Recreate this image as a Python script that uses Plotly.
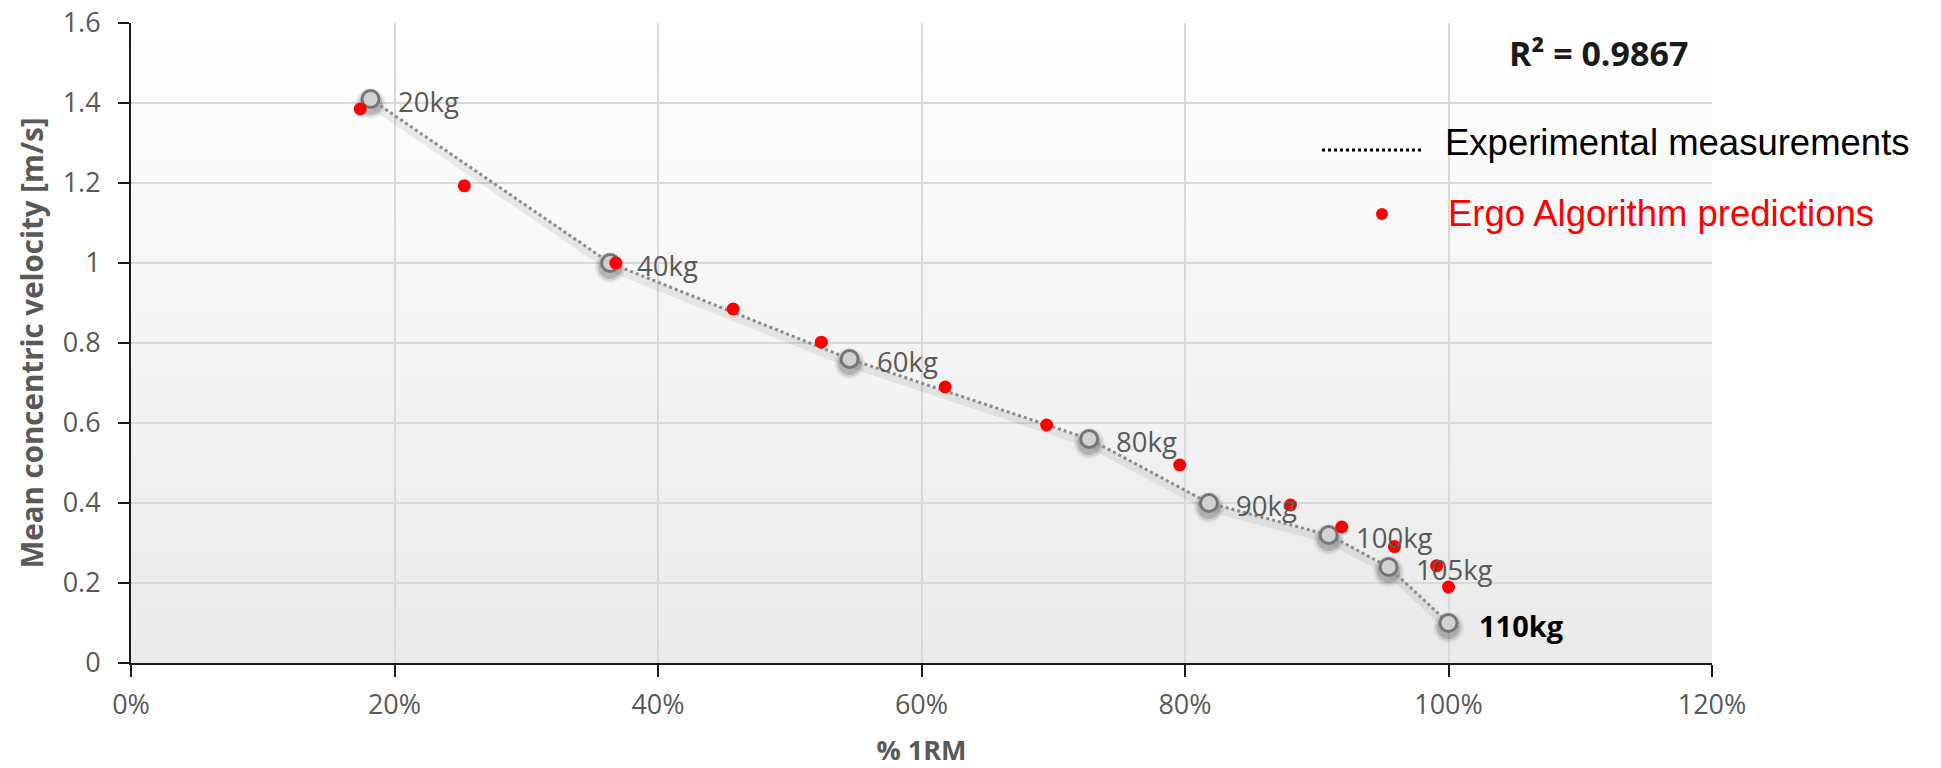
import plotly.graph_objects as go

# ---- data ----
loads = ["20kg", "40kg", "60kg", "80kg", "90kg", "100kg", "105kg", "110kg"]
exp_pct_1rm = [20 / 110, 40 / 110, 60 / 110, 80 / 110, 90 / 110, 100 / 110, 105 / 110, 110 / 110]
exp_velocity = [1.41, 1.00, 0.76, 0.56, 0.40, 0.32, 0.24, 0.10]

pred_pct_1rm = [0.174, 0.253, 0.368, 0.457, 0.524, 0.618, 0.695, 0.796, 0.880, 0.919, 0.959, 0.991, 1.000]
pred_velocity = [1.385, 1.193, 1.000, 0.885, 0.802, 0.690, 0.595, 0.495, 0.395, 0.340, 0.291, 0.243, 0.190]

x_tickvals = [0, 0.2, 0.4, 0.6, 0.8, 1.0, 1.2]
x_ticktext = ["0%", "20%", "40%", "60%", "80%", "100%", "120%"]
y_tickvals = [0, 0.2, 0.4, 0.6, 0.8, 1.0, 1.2, 1.4, 1.6]
y_ticktext = ["0", "0.2", "0.4", "0.6", "0.8", "1", "1.2", "1.4", "1.6"]

r_squared = 0.9867

# ---- page geometry ----
W, H = 1941, 768
ML, MR, MT, MB = 131, 229, 23, 105
PW, PH = W - ML - MR, H - MT - MB


def px_x(px):
    return (px - ML) / PW


def px_y(py):
    return (H - MB - py) / PH


GRAY_TEXT = "#595959"
CAL = "Open Sans, Lato, sans-serif"
ARIAL = "Liberation Sans, Arial, sans-serif"

fig = go.Figure()

# soft shadow under the measured curve
shadow_dy = 0.011
fig.add_trace(go.Scatter(
    x=exp_pct_1rm, y=[v - shadow_dy for v in exp_velocity],
    mode="lines", line=dict(color="rgba(0,0,0,0.07)", width=8),
    hoverinfo="skip", showlegend=False,
))
for size, alpha in [(31, 0.05), (27, 0.09), (23, 0.14)]:
    fig.add_trace(go.Scatter(
        x=exp_pct_1rm, y=[v - shadow_dy for v in exp_velocity],
        mode="markers", marker=dict(size=size, color=f"rgba(0,0,0,{alpha})", line=dict(width=0)),
        hoverinfo="skip", showlegend=False,
    ))

# experimental measurements
fig.add_trace(go.Scatter(
    x=exp_pct_1rm, y=exp_velocity, mode="lines+markers",
    name="Experimental measurements",
    line=dict(color="#8a8a8a", width=3, dash="dot"),
    marker=dict(size=17, color="#d2d2d2", line=dict(color="#757575", width=3)),
    showlegend=False,
))

# algorithm predictions
fig.add_trace(go.Scatter(
    x=pred_pct_1rm, y=pred_velocity, mode="markers",
    name="Ergo Algorithm predictions",
    marker=dict(size=13, color="#ff0000", line=dict(width=0)),
    showlegend=False,
))

annotations = []
# load labels beside each measured point
for i, (xv, yv, lab) in enumerate(zip(exp_pct_1rm, exp_velocity, loads)):
    last = i == len(loads) - 1
    annotations.append(dict(
        x=xv, y=yv, xref="x", yref="y", text=f"<b>{lab}</b>" if last else lab,
        showarrow=False, xanchor="left", yanchor="middle",
        xshift=28 if last else 25, yshift=-2,
        font=dict(family=CAL, size=29 if last else 27.5, color="#000000" if last else GRAY_TEXT),
    ))

# R² value
annotations.append(dict(
    x=px_x(1690), y=px_y(53), xref="paper", yref="paper",
    text=f"<b>R² = {r_squared}</b>", showarrow=False, xanchor="right", yanchor="middle",
    font=dict(family=CAL, size=34, color="#1a1a1a"),
))

# legend entries
annotations.append(dict(
    x=px_x(1443), y=px_y(142), xref="paper", yref="paper",
    text="Experimental measurements", showarrow=False, xanchor="left", yanchor="middle",
    font=dict(family=ARIAL, size=36.5, color="#000000"),
))
annotations.append(dict(
    x=px_x(1446), y=px_y(213), xref="paper", yref="paper",
    text="Ergo Algorithm predictions", showarrow=False, xanchor="left", yanchor="middle",
    font=dict(family=ARIAL, size=36.5, color="#ff0000"),
))

shapes = []
# vertical white-to-grey gradient in the plotting area
n_bands = 64
top_rgb, bottom_rgb = (255, 255, 255), (234, 234, 234)
for k in range(n_bands):
    t = (k + 0.5) / n_bands
    c = tuple(round(top_rgb[j] + (bottom_rgb[j] - top_rgb[j]) * t) for j in range(3))
    shapes.append(dict(
        type="rect", xref="x domain", yref="y domain", layer="below",
        x0=0, x1=1, y0=1 - (k + 1) / n_bands, y1=1 - k / n_bands + 0.002,
        fillcolor=f"rgb{c}", line=dict(width=0),
    ))

# legend symbols
shapes.append(dict(
    type="line", xref="paper", yref="paper",
    x0=px_x(1322), x1=px_x(1423), y0=px_y(150), y1=px_y(150),
    line=dict(color="#000000", width=3, dash="dot"),
))
shapes.append(dict(
    type="circle", xref="paper", yref="paper",
    x0=px_x(1376), x1=px_x(1388), y0=px_y(220), y1=px_y(208),
    fillcolor="#ff0000", line=dict(width=0),
))

fig.update_layout(
    width=W, height=H,
    margin=dict(l=ML, r=MR, t=MT, b=MB, autoexpand=False),
    paper_bgcolor="#ffffff", plot_bgcolor="rgba(0,0,0,0)",
    showlegend=False,
    annotations=annotations, shapes=shapes,
    xaxis=dict(
        range=[0, 1.2], tickvals=x_tickvals, ticktext=x_ticktext,
        showgrid=True, gridcolor="#d9d9d9", gridwidth=2,
        showline=True, linecolor="#1a1a1a", linewidth=2,
        ticks="outside", ticklen=12, tickwidth=2, tickcolor="#1a1a1a",
        ticklabelstandoff=5,
        tickfont=dict(family=CAL, size=27, color=GRAY_TEXT),
        zeroline=False, automargin=False,
        title=dict(text="<b>% 1RM</b>", standoff=24,
                   font=dict(family=CAL, size=27, color=GRAY_TEXT)),
    ),
    yaxis=dict(
        range=[0, 1.6], tickvals=y_tickvals, ticktext=y_ticktext,
        showgrid=True, gridcolor="#d9d9d9", gridwidth=2,
        showline=True, linecolor="#1a1a1a", linewidth=2,
        ticks="outside", ticklen=11, tickwidth=2, tickcolor="#1a1a1a",
        ticklabelstandoff=12,
        tickfont=dict(family=CAL, size=27, color=GRAY_TEXT),
        zeroline=False, automargin=False,
        title=dict(text="<b>Mean concentric velocity [m/s]</b>", standoff=10,
                   font=dict(family=CAL, size=29.5, color=GRAY_TEXT)),
    ),
)

fig.write_html("out.html")
